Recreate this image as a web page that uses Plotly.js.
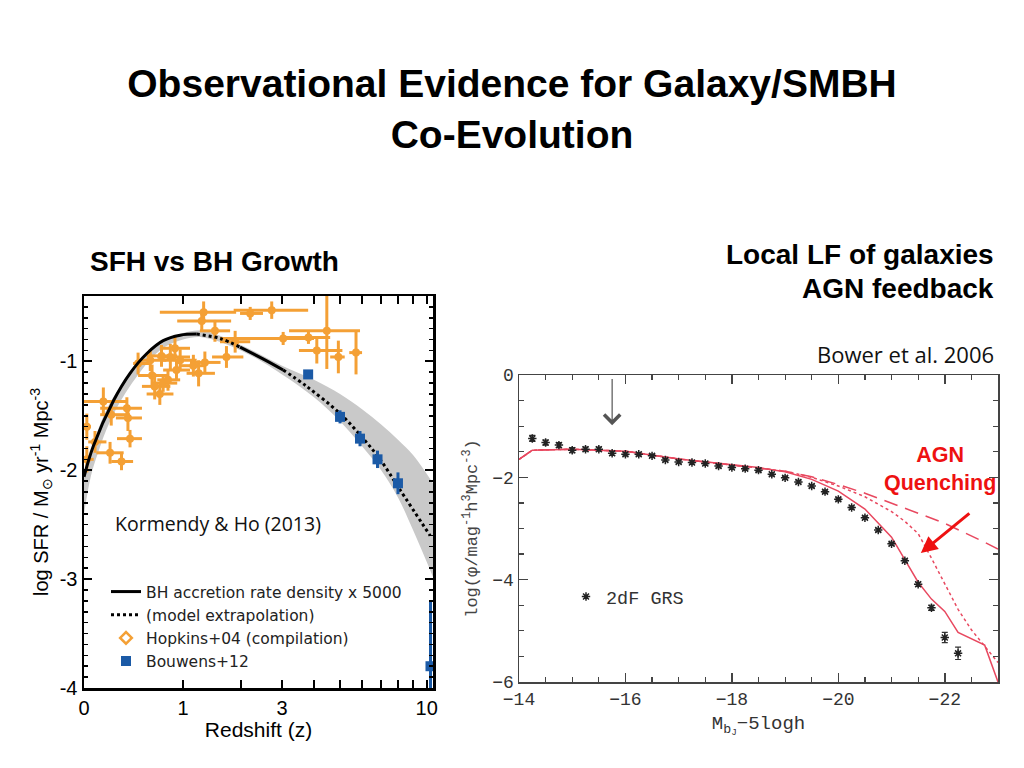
<!DOCTYPE html>
<html>
<head>
<meta charset="utf-8">
<script src="https://cdn.plot.ly/plotly-3.0.1.min.js"></script>
<style>html,body{margin:0;padding:0;background:#fff;}#chart{width:1024px;height:768px;}</style>
</head>
<body>
<div id="chart"></div>
<script>
// ---------- Left panel: SFH vs BH growth (Kormendy & Ho 2013) ----------
// Hopkins+04 compilation: redshift, redshift range, log SFR density, error
const hopZ     = [0.02,0.02,0.08,0.145,0.21,0.20,0.30,0.36,0.38,0.35,0.46,0.59,0.61,0.64,0.70,0.74,0.80,0.72,0.83,0.89,0.91,0.96,1.15,1.23,1.28,1.31,1.33,1.50,1.71,1.88,2.20,2.72,3.03,3.81,4.10,4.47,4.93,5.71];
const hopZmin  = [0.00,0.00,0.03,0.00,0.12,0.09,0.21,0.25,0.26,0.12,0.41,0.45,0.46,0.50,0.55,0.61,0.67,0.55,0.67,0.70,0.74,0.74,0.96,1.05,0.92,0.70,1.10,1.25,1.45,1.59,1.98,1.85,1.59,3.00,3.50,3.20,4.60,5.40];
const hopZmax  = [0.05,0.07,0.17,0.35,0.38,0.32,0.41,0.50,0.50,0.50,0.59,0.78,0.79,0.83,0.87,0.92,0.96,0.92,1.10,1.10,1.10,1.20,1.35,1.50,1.80,1.90,1.60,1.78,2.05,2.20,2.50,3.80,4.00,4.60,5.10,5.90,5.20,6.00];
const hopLogSFR= [-1.60,-1.90,-1.74,-1.37,-1.49,-1.84,-1.92,-1.52,-1.71,-1.43,-1.02,-0.99,-1.13,-1.23,-1.30,-1.20,-1.17,-0.95,-0.96,-0.88,-1.08,-0.99,-1.04,-1.11,-0.63,-0.55,-1.01,-0.72,-0.96,-0.82,-0.56,-0.53,-0.79,-0.78,-0.90,-0.72,-0.96,-0.92];
const hopErr   = [0.12,0.12,0.10,0.13,0.10,0.10,0.08,0.12,0.08,0.10,0.10,0.10,0.10,0.12,0.10,0.08,0.10,0.10,0.12,0.12,0.10,0.10,0.10,0.12,0.10,0.10,0.10,0.10,0.10,0.10,0.06,0.08,0.06,0.06,0.12,0.35,0.15,0.20];

// Bouwens+12
const bouZ      = [3.8, 5.0, 5.9, 6.8, 8.0, 10.3];
const bouLogSFR = [-1.12, -1.51, -1.71, -1.90, -2.12, -3.80];
const bouErrUp  = [0.03, 0.06, 0.07, 0.08, 0.10, 0.60];
const bouErrDn  = [0.03, 0.06, 0.07, 0.08, 0.10, 0.50];

// BH accretion rate density x 5000
const bhZ1   = [0, 0.067, 0.23, 0.38, 0.55, 0.74, 0.96, 1.2];
const bhY1   = [-2.06, -1.78, -1.36, -1.11, -0.93, -0.81, -0.76, -0.75];
const bhZgap = [1.2, 1.59, 1.98];
const bhYgap = [-0.75, -0.79, -0.87];
const bhZ2   = [1.98, 2.51, 3.03];
const bhY2   = [-0.87, -0.98, -1.08];
// model extrapolation
const extZ   = [3.03, 3.75, 5.0, 6.06, 6.94, 8.13, 10.27];
const extY   = [-1.08, -1.23, -1.48, -1.71, -1.90, -2.18, -2.60];
// uncertainty band
const bandZ     = [0, 0.05, 0.1, 0.2, 0.4, 0.7, 1.0, 1.3, 2.0, 3.0, 4.0, 5.0, 6.0, 7.0, 8.0, 9.0, 10.5];
const bandUpper = [-2.04, -1.84, -1.64, -1.38, -1.09, -0.83, -0.74, -0.72, -0.85, -1.04, -1.17, -1.30, -1.44, -1.58, -1.72, -1.86, -2.12];
const bandLower = [-2.40, -2.05, -1.85, -1.55, -1.20, -0.90, -0.80, -0.78, -0.90, -1.12, -1.33, -1.55, -1.78, -2.00, -2.25, -2.55, -2.98];

const zLabelVals = [0, 1, 3, 10];
const zLabelText = ['0', '1', '3', '10'];
const zMinorVals = [2, 4, 5, 6, 7, 8, 9];
const sfrTickVals = [-4, -3, -2, -1];
const sfrTickText = ['-4', '-3', '-2', '-1'];

// ---------- Right panel: local LF (Bower et al. 2006) ----------
const lfMag    = [-14.25,-14.5,-14.75,-15,-15.25,-15.5,-15.75,-16,-16.25,-16.5,-16.75,-17,-17.25,-17.5,-17.75,-18,-18.25,-18.5,-18.75,-19,-19.25,-19.5,-19.75,-20,-20.25,-20.5,-20.75,-21,-21.25,-21.5,-21.75,-22,-22.25];
const lfLogPhi = [-1.24,-1.32,-1.37,-1.47,-1.45,-1.45,-1.53,-1.55,-1.55,-1.58,-1.66,-1.70,-1.71,-1.73,-1.78,-1.81,-1.83,-1.86,-1.94,-2.01,-2.09,-2.17,-2.28,-2.43,-2.59,-2.79,-3.03,-3.30,-3.63,-4.09,-4.55,-5.13,-5.44];
const lfErr    = [0.06,0.05,0.05,0.05,0.04,0.04,0.04,0.03,0.03,0.03,0.03,0.03,0.03,0.03,0.03,0.03,0.03,0.03,0.03,0.03,0.03,0.03,0.03,0.03,0.03,0.03,0.03,0.03,0.03,0.04,0.05,0.10,0.12];

const modelMag    = [-14,-14.25,-15,-16,-17,-18,-18.5,-19,-19.5,-20,-20.5,-21,-21.25,-21.5,-21.75,-22,-22.25,-22.5,-22.75,-23];
const modelSolid  = [-1.65,-1.47,-1.45,-1.49,-1.64,-1.76,-1.81,-1.89,-2.04,-2.27,-2.62,-3.17,-3.62,-4.05,-4.38,-4.62,-5.03,-5.15,-5.28,-6.0];
const modelDotted = [-1.65,-1.47,-1.45,-1.49,-1.64,-1.76,-1.81,-1.88,-2.00,-2.17,-2.38,-2.67,-2.86,-3.10,-3.58,-4.08,-4.58,-4.98,-5.30,-5.62];
const modelDashed = [-1.65,-1.47,-1.45,-1.49,-1.64,-1.76,-1.81,-1.88,-1.99,-2.14,-2.31,-2.50,-2.60,-2.69,-2.80,-2.90,-3.02,-3.14,-3.27,-3.40];

const ORANGE = '#f4a035';
const BLUE = '#1b5aa6';
const RED = '#e8485f';
const onePlus = a => a.map(z => 1 + z);

const traces = [
  // band
  {x: onePlus(bandZ), y: bandLower, mode: 'lines', line: {width: 0, shape: 'spline'}, hoverinfo: 'skip', showlegend: false, xaxis: 'x', yaxis: 'y'},
  {x: onePlus(bandZ), y: bandUpper, mode: 'lines', line: {width: 0, shape: 'spline'}, fill: 'tonexty', fillcolor: '#c9c9c9', hoverinfo: 'skip', showlegend: false, xaxis: 'x', yaxis: 'y'},
  // Hopkins data
  {x: onePlus(hopZ), y: hopLogSFR, mode: 'markers', name: 'Hopkins+04 (compilation)', showlegend: false,
   marker: {color: ORANGE, size: 8, symbol: 'circle'},
   error_x: {type: 'data', symmetric: false, array: hopZmax.map((v,i)=>v-hopZ[i]), arrayminus: hopZ.map((v,i)=>v-hopZmin[i]), color: ORANGE, thickness: 3, width: 0},
   error_y: {type: 'data', array: hopErr, color: ORANGE, thickness: 3, width: 0},
   xaxis: 'x', yaxis: 'y'},
  // BH curve
  {x: onePlus(bhZ1), y: bhY1, mode: 'lines', name: 'BH accretion rate density x 5000', line: {color: '#000', width: 3, shape: 'spline'}, xaxis: 'x', yaxis: 'y'},
  {x: onePlus(bhZgap), y: bhYgap, mode: 'lines', showlegend: false, line: {color: '#000', width: 3, dash: 'dot', shape: 'spline'}, xaxis: 'x', yaxis: 'y'},
  {x: onePlus(bhZ2), y: bhY2, mode: 'lines', showlegend: false, line: {color: '#000', width: 3, shape: 'spline'}, xaxis: 'x', yaxis: 'y'},
  {x: onePlus(extZ), y: extY, mode: 'lines', name: '(model extrapolation)', line: {color: '#000', width: 3, dash: 'dot', shape: 'spline'}, xaxis: 'x', yaxis: 'y'},
  // legend proxy for Hopkins
  {x: [null], y: [null], mode: 'markers', name: 'Hopkins+04 (compilation)', marker: {color: ORANGE, size: 9, symbol: 'diamond-open', line: {width: 2.5, color: ORANGE}}, xaxis: 'x', yaxis: 'y'},
  // Bouwens
  {x: onePlus(bouZ), y: bouLogSFR, mode: 'markers', name: 'Bouwens+12',
   marker: {color: BLUE, size: 10, symbol: 'square'},
   error_y: {type: 'data', symmetric: false, array: bouErrUp, arrayminus: bouErrDn, color: BLUE, thickness: 3, width: 0},
   xaxis: 'x', yaxis: 'y'},

  // Right panel models
  {x: modelMag, y: modelDashed, mode: 'lines', showlegend: false, line: {color: RED, width: 1.5, dash: '14px,8px'}, xaxis: 'x2', yaxis: 'y2'},
  {x: modelMag, y: modelDotted, mode: 'lines', showlegend: false, line: {color: RED, width: 1.5, dash: 'dot'}, xaxis: 'x2', yaxis: 'y2'},
  {x: modelMag, y: modelSolid, mode: 'lines', showlegend: false, line: {color: RED, width: 1.5}, xaxis: 'x2', yaxis: 'y2'},
  // 2dF GRS
  {x: lfMag, y: lfLogPhi, mode: 'markers', name: '2dF GRS', legend: 'legend2',
   marker: {symbol: 'asterisk', size: 7, color: '#222', line: {color: '#222', width: 1.5}},
   error_y: {type: 'data', array: lfErr, color: '#333', thickness: 1.2, width: 3},
   xaxis: 'x2', yaxis: 'y2'}
];

const P = (px) => px / 1024;
const Q = (py) => 1 - py / 768;

const layout = {
  width: 1024, height: 768,
  margin: {l: 0, r: 0, t: 0, b: 0},
  paper_bgcolor: '#fff', plot_bgcolor: '#fff',
  font: {family: 'Liberation Sans, Arial, sans-serif', color: '#000'},
  title: {text: 'Observational Evidence for Galaxy/SMBH<br>Co-Evolution',
          font: {family: 'Liberation Sans, Arial, sans-serif', size: 39, weight: 700, color: '#000'},
          x: 0.5, xanchor: 'center', xref: 'paper', y: Q(97), yref: 'container', yanchor: 'top'},
  xaxis: {domain: [P(84), P(433)], type: 'log', range: [0, Math.log10(11.5)],
          tickmode: 'array', tickvals: onePlus(zLabelVals), ticktext: zLabelText,
          ticks: 'inside', ticklen: 8, tickwidth: 2, tickcolor: '#000',
          minor: {tickmode: 'array', tickvals: onePlus(zMinorVals), ticks: 'inside', ticklen: 8, tickwidth: 2, tickcolor: '#000'},
          showline: true, linewidth: 2.5, linecolor: '#000', mirror: 'allticks',
          showgrid: false, zeroline: false,
          tickfont: {size: 20, color: '#000'},
          title: {text: 'Redshift (z)', font: {size: 21, color: '#000'}, standoff: 5},
          anchor: 'y', automargin: false},
  yaxis: {domain: [Q(688), Q(296)], range: [-4, -0.4],
          tickmode: 'array', tickvals: sfrTickVals, ticktext: sfrTickText,
          ticks: 'inside', ticklen: 8, tickwidth: 2, tickcolor: '#000',
          minor: {tickmode: 'linear', tick0: -4, dtick: 0.1, ticks: 'inside', ticklen: 4, tickwidth: 1.5, tickcolor: '#000'},
          showline: true, linewidth: 2.5, linecolor: '#000', mirror: 'allticks',
          showgrid: false, zeroline: false,
          tickfont: {size: 20, color: '#000'},
          title: {text: 'log SFR / M<sub>⊙</sub> yr<sup>-1</sup> Mpc<sup>-3</sup>', font: {size: 20, color: '#000'}, standoff: 6},
          anchor: 'x', automargin: false},
  xaxis2: {domain: [P(519), P(998)], range: [-14, -23],
          tickmode: 'linear', tick0: -14, dtick: 2,
          ticks: 'inside', ticklen: 9, tickwidth: 1.5, tickcolor: '#444',
          minor: {tickmode: 'linear', tick0: -14, dtick: 0.5, ticks: 'inside', ticklen: 5, tickwidth: 1.2, tickcolor: '#444'},
          showline: true, linewidth: 1.5, linecolor: '#444', mirror: 'allticks',
          showgrid: false, zeroline: false,
          tickfont: {family: 'Liberation Mono, Courier New, monospace', size: 18, color: '#333'},
          title: {text: 'M<sub>b<sub>J</sub></sub>−5logh', font: {family: 'Liberation Mono, Courier New, monospace', size: 19, color: '#333'}, standoff: 6},
          anchor: 'y2', automargin: false},
  yaxis2: {domain: [Q(682), Q(375)], range: [-6, 0],
          tickmode: 'linear', tick0: 0, dtick: 2,
          ticks: 'inside', ticklen: 9, tickwidth: 1.5, tickcolor: '#444',
          minor: {tickmode: 'linear', tick0: 0, dtick: 0.5, ticks: 'inside', ticklen: 5, tickwidth: 1.2, tickcolor: '#444'},
          showline: true, linewidth: 1.5, linecolor: '#444', mirror: 'allticks',
          showgrid: false, zeroline: false,
          tickfont: {family: 'Liberation Mono, Courier New, monospace', size: 18, color: '#333'},
          title: {text: 'log(φ/mag<sup>-1</sup>h<sup>3</sup>Mpc<sup>-3</sup>)', font: {family: 'Liberation Mono, Courier New, monospace', size: 17, color: '#444'}, standoff: 10},
          anchor: 'x2', automargin: false},
  legend: {x: P(106), y: Q(575), xanchor: 'left', yanchor: 'top', bgcolor: 'rgba(0,0,0,0)', traceorder: 'normal',
           font: {family: 'DejaVu Sans, sans-serif', size: 15.5, color: '#222'}, tracegroupgap: 0},
  legend2: {x: P(566), y: Q(578), xanchor: 'left', yanchor: 'top', bgcolor: 'rgba(0,0,0,0)',
           font: {family: 'Liberation Mono, Courier New, monospace', size: 18.5, color: '#333'}},
  annotations: [
    {text: 'Kormendy &amp; Ho (2013)', xref: 'paper', yref: 'paper', x: P(113), y: Q(523), xanchor: 'left', yanchor: 'middle', showarrow: false,
     font: {family: 'Open Sans, sans-serif', size: 19.5, color: '#111'}},
    {text: '<b>SFH vs BH Growth</b>', xref: 'paper', yref: 'paper', x: P(88), y: Q(262), xanchor: 'left', yanchor: 'middle', showarrow: false,
     font: {family: 'Liberation Sans, Arial, sans-serif', size: 28, color: '#000'}},
    {text: '<b>Local LF of galaxies</b>', xref: 'paper', yref: 'paper', x: P(996), y: Q(254), xanchor: 'right', yanchor: 'middle', showarrow: false,
     font: {family: 'Liberation Sans, Arial, sans-serif', size: 28, color: '#000'}},
    {text: '<b>AGN feedback</b>', xref: 'paper', yref: 'paper', x: P(996), y: Q(289), xanchor: 'right', yanchor: 'middle', showarrow: false,
     font: {family: 'Liberation Sans, Arial, sans-serif', size: 28, color: '#000'}},
    {text: 'Bower et al. 2006', xref: 'paper', yref: 'paper', x: P(996), y: Q(354), xanchor: 'right', yanchor: 'middle', showarrow: false,
     font: {family: 'Open Sans, sans-serif', size: 22, color: '#111'}},
    {text: '<b>AGN<br>Quenching</b>', xref: 'paper', yref: 'paper', x: P(940), y: Q(469), xanchor: 'center', yanchor: 'middle', showarrow: false,
     font: {family: 'Liberation Sans, Arial, sans-serif', size: 21.5, color: '#ee1111'}},
    // red arrow
    {text: '', xref: 'x2', yref: 'y2', x: -21.55, y: -3.48, axref: 'x2', ayref: 'y2', ax: -22.49, ay: -2.68,
     showarrow: true, arrowhead: 2, arrowsize: 1.1, arrowwidth: 3, arrowcolor: '#ee1111'},
    // gray vertical arrow
    {text: '', xref: 'x2', yref: 'y2', x: -15.75, y: -0.98, axref: 'x2', ayref: 'y2', ax: -15.75, ay: -0.05,
     showarrow: true, arrowhead: 4, arrowsize: 2.6, arrowwidth: 1.2, arrowcolor: '#555'}
  ]
};

Plotly.newPlot('chart', traces, layout, {displayModeBar: false, staticPlot: true});
</script>
</body>
</html>
